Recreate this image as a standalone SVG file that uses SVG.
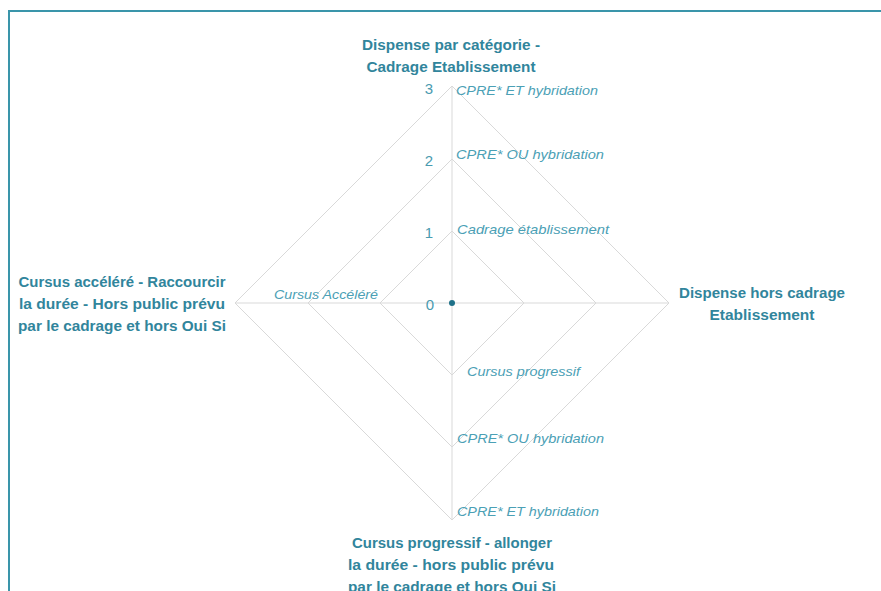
<svg xmlns="http://www.w3.org/2000/svg" width="881" height="591" viewBox="0 0 881 591">
<style>
.frame{fill:#fff;stroke:#3A95AA;stroke-width:2}
.grid{fill:none;stroke:#D9D9D9;stroke-width:1}
.title{font-family:"Liberation Sans",Arial,sans-serif;font-weight:bold;font-size:14.5px;fill:#31859C;text-anchor:middle}
.cat{font-family:"Liberation Sans",Arial,sans-serif;font-style:italic;font-size:13.5px;fill:#4BA0B5}
.tick{font-family:"Liberation Sans",Arial,sans-serif;font-size:15px;fill:#4A9BB0;text-anchor:middle}
</style>
<rect class="frame" x="9" y="11" width="900" height="600"/>
<g id="connectors">
<polygon class="grid" points="452,231 524,303 452,375 380,303"/>
<polygon class="grid" points="452,159 596,303 452,447 308,303"/>
<polygon class="grid" points="452,86 669,303 452,520 235,303"/>
<line class="grid" x1="452" y1="86" x2="452" y2="520"/>
<line class="grid" x1="235" y1="303" x2="669" y2="303"/>
</g>
<g id="ticks">
<text class="tick" x="429" y="94">3</text>
<text class="tick" x="429" y="166">2</text>
<text class="tick" x="429" y="238">1</text>
<text class="tick" x="430" y="310">0</text>
</g>
<g id="axis-top">
<text class="title" x="451" y="50" textLength="178" lengthAdjust="spacingAndGlyphs">Dispense par catégorie -</text>
<text class="title" x="451" y="72" textLength="169" lengthAdjust="spacingAndGlyphs">Cadrage Etablissement</text>
</g>
<g id="axis-right">
<text class="title" x="762" y="298" textLength="166" lengthAdjust="spacingAndGlyphs">Dispense hors cadrage</text>
<text class="title" x="762" y="320" textLength="105" lengthAdjust="spacingAndGlyphs">Etablissement</text>
</g>
<g id="axis-bottom">
<text class="title" x="452" y="548" textLength="200" lengthAdjust="spacingAndGlyphs">Cursus progressif - allonger</text>
<text class="title" x="451" y="570" textLength="206" lengthAdjust="spacingAndGlyphs">la durée - hors public prévu</text>
<text class="title" x="452" y="592" textLength="208" lengthAdjust="spacingAndGlyphs">par le cadrage et hors Oui Si</text>
</g>
<g id="axis-left">
<text class="title" x="122" y="287" textLength="207" lengthAdjust="spacingAndGlyphs">Cursus accéléré - Raccourcir</text>
<text class="title" x="122" y="309" textLength="206" lengthAdjust="spacingAndGlyphs">la durée - Hors public prévu</text>
<text class="title" x="122" y="331" textLength="208" lengthAdjust="spacingAndGlyphs">par le cadrage et hors Oui Si</text>
</g>
<g id="categories">
<text class="cat" x="456" y="95" textLength="142" lengthAdjust="spacingAndGlyphs">CPRE* ET hybridation</text>
<text class="cat" x="456" y="159" textLength="148" lengthAdjust="spacingAndGlyphs">CPRE* OU hybridation</text>
<text class="cat" x="457" y="234" textLength="152" lengthAdjust="spacingAndGlyphs">Cadrage établissement</text>
<text class="cat" x="274" y="299" textLength="104" lengthAdjust="spacingAndGlyphs">Cursus Accéléré</text>
<text class="cat" x="467" y="376" textLength="113" lengthAdjust="spacingAndGlyphs">Cursus progressif</text>
<text class="cat" x="457" y="443" textLength="147" lengthAdjust="spacingAndGlyphs">CPRE* OU hybridation</text>
<text class="cat" x="457" y="516" textLength="142" lengthAdjust="spacingAndGlyphs">CPRE* ET hybridation</text>
</g>
<g id="series">
<circle cx="452" cy="303" r="3" fill="#1F7189"/>
</g>
</svg>
